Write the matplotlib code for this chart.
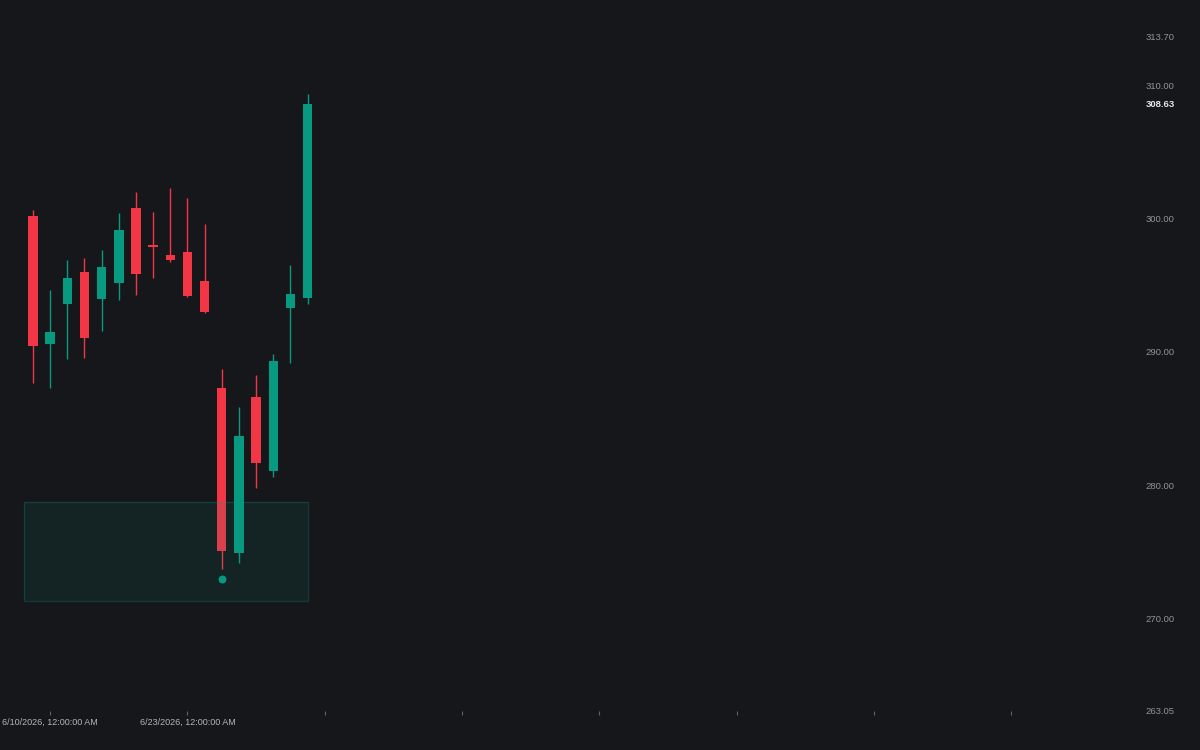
import matplotlib.pyplot as plt
import numpy as np

plt.rcParams['font.family'] = ['Liberation Sans', 'DejaVu Sans']

# OHLC values (one candle per trading day)
opens = [300.19, 290.61, 293.59, 295.97, 293.99, 295.14, 300.77, 298.04, 297.24,
         297.47, 295.29, 287.31, 274.88, 286.63, 281.04, 293.31, 294.02]
highs = [300.64, 294.64, 296.89, 297.04, 297.67, 300.40, 301.99, 300.47, 302.29,
         301.54, 299.59, 288.71, 285.86, 288.26, 289.84, 296.52, 309.35]
lows = [287.69, 287.29, 289.49, 289.54, 291.59, 293.89, 294.27, 295.52, 296.72,
        294.09, 292.89, 273.68, 274.13, 279.76, 280.61, 289.14, 293.57]
closes = [290.44, 291.49, 295.54, 291.02, 296.34, 299.17, 295.82, 297.89, 296.89,
          294.17, 292.97, 275.03, 283.69, 281.64, 289.29, 294.32, 308.63]

# marker dot and zone box
dot_idx = 11
dot_price = 272.98
zone_start, zone_end = -0.52, 16
zone_low, zone_high = 271.31, 278.76

# axis ticks
x_ticks = [1, 9, 17, 25, 33, 41, 49, 57]
x_labels = ["6/10/2026, 12:00:00 AM", "6/23/2026, 12:00:00 AM", "", "", "", "", "", ""]
y_ticks = [263.05, 270, 280, 290, 300, 310, 313.70]
last_price = closes[-1]

bg = '#16171b'
up_col = '#089981'
down_col = '#f23645'

fig = plt.figure(figsize=(12, 7.5), dpi=100)
fig.patch.set_facecolor(bg)
ax = fig.add_axes([0, 39 / 750, 1140 / 1200, 675 / 750])
ax.set_facecolor(bg)

opens = np.array(opens)
closes = np.array(closes)
idx = np.arange(len(opens))
cols = np.where(closes >= opens, up_col, down_col)

ax.vlines(idx, lows, highs, colors=cols, linewidth=1, zorder=2)
ax.bar(idx, np.abs(closes - opens), bottom=np.minimum(opens, closes),
       width=0.55, color=cols, linewidth=0, zorder=3)

ax.add_patch(plt.Rectangle((zone_start, zone_low), zone_end - zone_start, zone_high - zone_low,
                           facecolor=up_col, alpha=0.1, edgecolor='none', zorder=4))
ax.add_patch(plt.Rectangle((zone_start, zone_low), zone_end - zone_start, zone_high - zone_low,
                           facecolor='none', edgecolor=up_col, alpha=0.25, linewidth=1, zorder=4))
ax.scatter([dot_idx], [dot_price], s=22, color=up_col, zorder=5)

ax.set_xlim(-33 / 17.16, (1140 - 33) / 17.16)
ax.set_ylim(263.05, 313.70)

for s in ax.spines.values():
    s.set_visible(False)

ax.set_xticks(x_ticks)
ax.set_xticklabels(x_labels)
ax.tick_params(axis='x', colors='#5d606b', length=3, width=0.8, pad=2,
               labelsize=6.5, labelcolor='#b2b5be')

ax.yaxis.tick_right()
yt = y_ticks + [last_price]
ax.set_yticks(yt)
ax.set_yticklabels([f"{v:.2f}" for v in yt])
ax.tick_params(axis='y', length=0, pad=4, labelsize=6.8, labelcolor='#8f939d')
last_lbl = ax.get_yticklabels()[-1]
last_lbl.set_color('#e6e7ea')
last_lbl.set_fontweight('bold')

fig.savefig('out.png', dpi=100, facecolor=bg)
